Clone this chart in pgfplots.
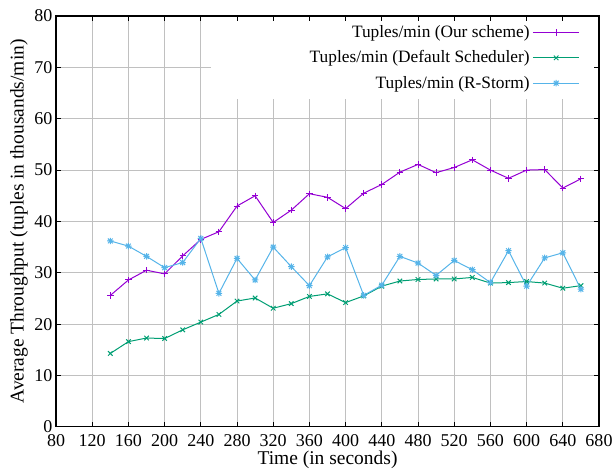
\documentclass[border=0pt]{standalone}
\usepackage{fontspec}
\setmainfont{Liberation Serif}
\usepackage{pgfplots}
\pgfplotsset{compat=1.18}

\definecolor{gpPurple}{RGB}{148,0,211}
\definecolor{gpGreen}{RGB}{0,158,115}
\definecolor{gpBlue}{RGB}{86,180,233}
\definecolor{gridgray}{RGB}{192,192,192}

% gnuplot point type 3: plus and cross together
\pgfdeclareplotmark{pluscross}{%
  \pgfpathmoveto{\pgfqpoint{-\pgfplotmarksize}{0pt}}%
  \pgfpathlineto{\pgfqpoint{\pgfplotmarksize}{0pt}}%
  \pgfpathmoveto{\pgfqpoint{0pt}{-\pgfplotmarksize}}%
  \pgfpathlineto{\pgfqpoint{0pt}{\pgfplotmarksize}}%
  \pgfpathmoveto{\pgfqpoint{-.75\pgfplotmarksize}{-.75\pgfplotmarksize}}%
  \pgfpathlineto{\pgfqpoint{.75\pgfplotmarksize}{.75\pgfplotmarksize}}%
  \pgfpathmoveto{\pgfqpoint{-.75\pgfplotmarksize}{.75\pgfplotmarksize}}%
  \pgfpathlineto{\pgfqpoint{.75\pgfplotmarksize}{-.75\pgfplotmarksize}}%
  \pgfusepathqstroke}

\pgfplotstableread{
t    ours  default rstorm
140  25.6  14.3  36.2
160  28.6  16.6  35.2
180  30.5  17.3  33.2
200  29.8  17.2  31.0
220  33.3  18.9  32.0
240  36.5  20.4  36.7
260  38.0  21.9  26.0
280  43.0  24.5  32.8
300  45.0  25.1  28.6
320  39.8  23.1  35.0
340  42.2  24.0  31.2
360  45.4  25.4  27.5
380  44.7  25.9  33.1
400  42.5  24.2  34.9
420  45.5  25.5  25.6
440  47.2  27.4  27.6
460  49.6  28.4  33.2
480  51.1  28.7  31.9
500  49.5  28.8  29.5
520  50.5  28.8  32.4
540  52.0  29.1  30.6
560  50.0  28.0  28.1
580  48.4  28.1  34.3
600  50.0  28.3  27.4
620  50.1  28.0  32.9
640  46.5  27.0  33.9
660  48.3  27.5  26.8
}\throughput

\begin{document}
\begin{tikzpicture}
\begin{axis}[
  scale only axis,
  width=407pt, height=308pt,
  xmin=80, xmax=680, ymin=0, ymax=80,
  xtick={80,120,...,680},
  ytick={0,10,...,80},
  axis on top,
  axis line style={line width=0.9pt},
  tick style={black, line width=0.7pt},
  major tick length=4pt,
  tick align=inside,
  xtick pos=both, ytick pos=both,
  tick label style={font=\fontsize{13.5}{15}\selectfont},
  /pgf/number format/assume math mode=true,
  xticklabel style={anchor=center, yshift=-10.5pt},
  yticklabel style={anchor=east, inner xsep=0pt, xshift=-2.5pt},
  xlabel={Time (in seconds)},
  ylabel={Average Throughput (tuples in thousands/min)},
  xlabel style={font=\fontsize{14.6}{16}\selectfont,
    at={(axis description cs:0.5,0)}, anchor=center, yshift=-24.75pt},
  ylabel style={font=\fontsize{14.6}{16}\selectfont,
    at={(axis description cs:0,0.5)}, anchor=center, yshift=27.75pt},
  legend style={at={(rel axis cs:0.9655,0.984)}, anchor=north east,
    draw=none, fill=none, font=\fontsize{13}{15}\selectfont,
    row sep=4.4pt, inner sep=0pt},
  legend cell align=right,
  legend plot pos=right,
  legend image code/.code={%
    \draw[mark repeat=2,mark phase=2,#1]
      plot coordinates {(0pt,0pt) (17.5pt,0pt) (35pt,0pt)};},
  every axis plot/.append style={line width=0.75pt, mark size=2.4pt},
]
% grid, kept clear of the key box as in the original
\pgfplotsinvokeforeach{120,160,200,240}{
  \draw[gridgray, line width=0.75pt] (axis cs:#1,0) -- (axis cs:#1,80);}
\pgfplotsinvokeforeach{280,320,...,640}{
  \draw[gridgray, line width=0.75pt] (axis cs:#1,0) -- (axis cs:#1,63.9);}
\pgfplotsinvokeforeach{10,20,...,60}{
  \draw[gridgray, line width=0.75pt] (axis cs:80,#1) -- (axis cs:680,#1);}
\draw[gridgray, line width=0.75pt] (axis cs:80,70) -- (axis cs:251,70);

\addplot[gpPurple, mark=+] table[x=t, y=ours] {\throughput};
\addlegendentry{Tuples/min (Our scheme)}
\addplot[gpGreen, mark=x] table[x=t, y=default] {\throughput};
\addlegendentry{Tuples/min (Default Scheduler)}
\addplot[gpBlue, mark=pluscross] table[x=t, y=rstorm] {\throughput};
\addlegendentry{Tuples/min (R-Storm)}
\end{axis}
% page margins as in the original image
\pgfresetboundingbox
\path ([xshift=-42pt,yshift=-33.75pt]current axis.south west)
  rectangle ([xshift=10.5pt,yshift=12pt]current axis.north east);
\end{tikzpicture}
\end{document}
